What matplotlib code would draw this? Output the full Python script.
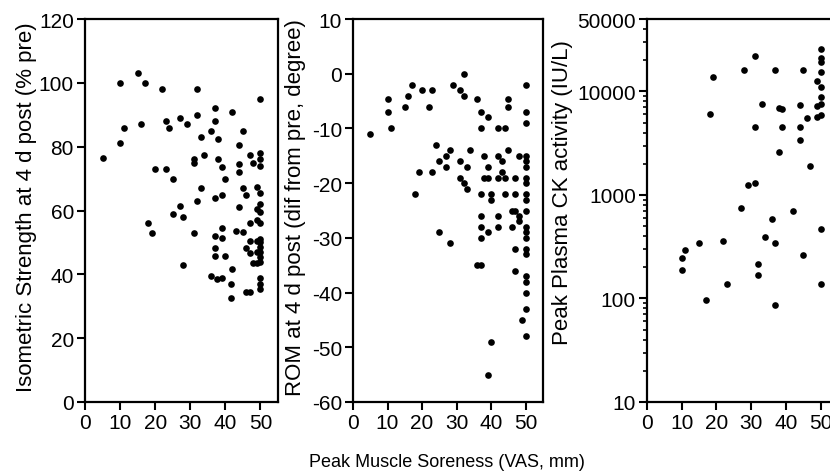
import matplotlib
matplotlib.use("Agg")
import matplotlib.pyplot as plt
from matplotlib.ticker import FixedLocator, LogLocator, NullFormatter, FixedFormatter

plt.rcParams['font.family'] = ['Liberation Sans', 'DejaVu Sans']
plt.rcParams['axes.unicode_minus'] = False

# Peak muscle soreness (VAS, mm) vs isometric strength at 4 d post (% pre)
soreness_strength = [5, 10, 10, 11, 15, 17, 16, 22, 23, 24, 27, 29, 32, 32, 33, 31, 31, 34,
                     37, 37, 36, 38, 42, 45, 44, 50, 38, 39, 40, 20, 23, 25, 33, 32, 37, 39,
                     44, 44, 45, 46, 44, 47, 48, 50, 50, 50, 49, 50, 50, 49, 50, 49, 50, 47,
                     27, 25, 28, 18, 19, 31, 28, 37, 39, 39, 37, 37, 40, 43, 45, 47, 46, 47,
                     48, 49, 49, 49, 50, 50, 50, 50, 50, 50, 42, 36, 37.5, 39, 41.5, 41.5,
                     46, 47, 50, 50, 50]
strength = [76.6, 100, 81, 86, 103, 100, 87, 98, 88, 86, 89, 87, 98, 90, 83, 76, 75, 77.5,
            92, 88, 85, 82.5, 91, 85, 80.5, 95, 76, 73.5, 70, 73, 73, 70, 67, 63, 64, 65,
            74.5, 72, 67, 65, 61, 77.5, 75, 78, 76, 74, 67.5, 65.5, 62, 60.5, 59.5, 57, 56, 56,
            61.5, 59, 58, 56, 53, 53, 43, 52, 54.5, 51.5, 48.3, 45.6, 45.6, 53.6, 53.3, 50.6, 48.3, 46.6,
            43.5, 50.5, 47, 43.5, 51, 50, 48.5, 46.9, 45.4, 43.8, 41.7, 39.6, 38.6, 39, 37, 32.6,
            34.4, 34.4, 39, 37, 35.4]

# Peak muscle soreness vs range of motion at 4 d post (difference from pre, degree)
soreness_rom = [5, 10, 10, 11, 15, 16, 17, 20, 23, 22, 29, 31, 32, 32, 36, 37, 39, 37, 42, 44,
                45, 45, 50, 50, 50,
                24, 25, 27, 28, 19, 23, 18, 27, 31, 33, 34, 31, 32, 33,
                38, 42, 45, 48, 39, 43, 38, 39, 42, 43, 44, 47,
                37, 40, 40, 44, 47, 46, 47, 48, 37, 42,
                50, 50, 50, 50, 50, 50, 50, 50,
                25, 28, 37, 39, 37, 42, 46, 48, 50, 50, 50, 47, 50, 50, 36, 37, 47, 50, 50, 50,
                50, 49, 50, 40, 39]
rom = [-11, -4.6, -7, -10, -6, -4, -2, -3, -3, -6, -2, -3, -4, 0, -4.6, -7, -8, -10, -10, -10,
       -4.6, -6, -2, -7, -9,
       -13, -16, -15, -14, -18, -18, -22, -17, -16, -17, -14, -19, -20, -21,
       -15, -15, -14, -15, -17, -16, -19, -19, -19, -18, -19, -19,
       -22, -22, -23, -22, -22, -25, -25, -26, -26, -26,
       -15, -16, -17, -19, -20, -22, -23, -25,
       -29, -31, -28, -29, -30, -28, -28, -27, -28, -29, -30, -32, -32, -33, -35, -35, -36, -37,
       -38, -40, -43, -45, -48, -49, -55]

# Peak muscle soreness vs peak plasma CK activity (IU/L)
soreness_ck = [10, 10, 11, 15, 17, 18, 19, 22, 23, 27, 28, 29, 31, 31, 31, 32, 32, 33, 34, 36,
               37, 37, 37, 38, 39, 39, 38, 42, 44, 45, 44, 44, 45, 46, 47, 49, 49, 49,
               50, 50, 50, 50, 50, 50, 50, 50, 50, 50]
ck = [246, 187, 292, 344, 97, 6000, 13800, 356, 139, 740, 16000, 1240, 1290, 22000, 4500,
      217, 170, 7600, 393, 580, 16000, 344, 87, 6850, 6700, 4500, 2600, 695, 7460, 16200,
      4500, 3420, 261, 5590, 1890, 12500, 7200, 5700,
      25900, 20800, 19400, 15500, 11000, 8870, 7500, 5890, 470, 139]

x_ticks = [0, 10, 20, 30, 40, 50]
strength_ticks = [0, 20, 40, 60, 80, 100, 120]
rom_ticks = [-60, -50, -40, -30, -20, -10, 0, 10]
ck_ticks = [10, 100, 1000, 10000, 50000]
ck_tick_labels = ['10', '100', '1000', '10000', '50000']

fig = plt.figure(figsize=(8.3, 4.77), dpi=100)

bottom = 1 - 403 / 477
height = (403 - 20) / 477
ax1 = fig.add_axes([85 / 830, bottom, 193 / 830, height])
ax2 = fig.add_axes([353 / 830, bottom, 190 / 830, height])
ax3 = fig.add_axes([647 / 830, bottom, 191 / 830, height])

dot = dict(linestyle='none', marker='o', color='black', markersize=4.8, markeredgewidth=0)
label_size = 16


def style(ax):
    for s in ax.spines.values():
        s.set_linewidth(1.6)
    ax.tick_params(axis='both', which='major', direction='out', length=6, width=1.5,
                   labelsize=15, pad=2)
    ax.tick_params(axis='both', which='minor', direction='out', length=3, width=1.2)
    ax.set_xlim(0, 55)
    ax.set_xticks(x_ticks)


ax1.plot(soreness_strength, strength, **dot)
style(ax1)
ax1.set_ylim(0, 120)
ax1.set_yticks(strength_ticks)
ax1.set_ylabel('Isometric Strength at 4 d post (% pre)', fontsize=label_size)
ax1.yaxis.set_label_coords(-0.25, 0.51)

ax2.plot(soreness_rom, rom, **dot)
style(ax2)
ax2.set_ylim(-60, 10)
ax2.set_yticks(rom_ticks)
ax2.set_ylabel('ROM at 4 d post (dif from pre, degree)', fontsize=label_size)
ax2.yaxis.set_label_coords(-0.25, 0.51)

ax3.plot(soreness_ck, ck, **dot)
ax3.set_yscale('log')
style(ax3)
ax3.set_ylim(10, 50000)
ax3.yaxis.set_major_locator(FixedLocator(ck_ticks))
ax3.yaxis.set_major_formatter(FixedFormatter(ck_tick_labels))
ax3.yaxis.set_minor_locator(LogLocator(base=10, subs=range(2, 10), numticks=20))
ax3.yaxis.set_minor_formatter(NullFormatter())
ax3.set_ylabel('Peak Plasma CK activity (IU/L)', fontsize=label_size)
ax3.yaxis.set_label_coords(-0.385, 0.55)

fig.text(447 / 830, 1 - 463 / 477, 'Peak Muscle Soreness (VAS, mm)', fontsize=13,
         ha='center', va='center')

fig.savefig('out.png', dpi=100)
